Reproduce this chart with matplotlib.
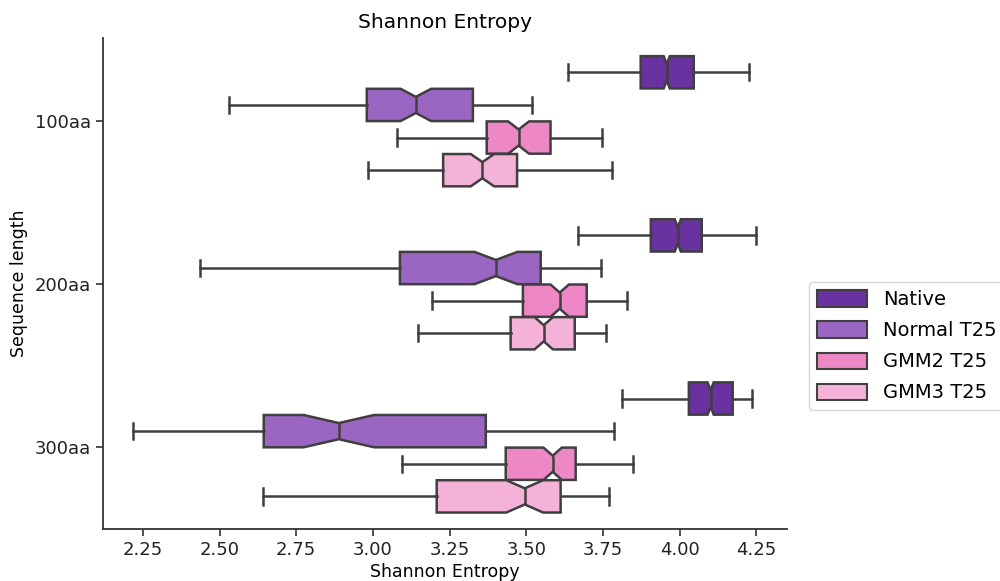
import matplotlib
matplotlib.use("Agg")
import matplotlib.pyplot as plt
from matplotlib.patches import Patch

# Summary stats (Shannon entropy per model / length)
lengths = ["100aa", "200aa", "300aa"]
models = ["Native", "Normal T25", "GMM2 T25", "GMM3 T25"]
colors = ["#6a32a0", "#9a66c2", "#ee87c5", "#f5b2d8"]

# per model: lists over lengths
whislo = {
    "Native":     [3.635, 3.668, 3.811],
    "Normal T25": [2.530, 2.436, 2.217],
    "GMM2 T25":   [3.080, 3.192, 3.094],
    "GMM3 T25":   [2.983, 3.146, 2.641],
}
q1 = {
    "Native":     [3.873, 3.906, 4.030],
    "Normal T25": [2.980, 3.088, 2.644],
    "GMM2 T25":   [3.371, 3.489, 3.433],
    "GMM3 T25":   [3.229, 3.449, 3.208],
}
med = {
    "Native":     [3.958, 3.994, 4.101],
    "Normal T25": [3.140, 3.401, 2.889],
    "GMM2 T25":   [3.475, 3.609, 3.586],
    "GMM3 T25":   [3.357, 3.557, 3.495],
}
q3 = {
    "Native":     [4.046, 4.072, 4.173],
    "Normal T25": [3.326, 3.547, 3.368],
    "GMM2 T25":   [3.579, 3.697, 3.661],
    "GMM3 T25":   [3.470, 3.658, 3.612],
}
whishi = {
    "Native":     [4.225, 4.248, 4.235],
    "Normal T25": [3.520, 3.743, 3.785],
    "GMM2 T25":   [3.746, 3.828, 3.847],
    "GMM3 T25":   [3.780, 3.759, 3.770],
}
notch_half = {
    "Native":     [0.010, 0.010, 0.010],
    "Normal T25": [0.050, 0.070, 0.115],
    "GMM2 T25":   [0.034, 0.030, 0.030],
    "GMM3 T25":   [0.038, 0.030, 0.060],
}

fig = plt.figure(figsize=(10, 5.81), dpi=100)
ax = fig.add_axes([0.103, 0.0895, 0.684, 0.845])

offsets = [-0.3, -0.1, 0.1, 0.3]
edge = "#3f3f3f"
for m, col, off in zip(models, colors, offsets):
    stats = []
    for i in range(len(lengths)):
        stats.append(dict(
            med=med[m][i], q1=q1[m][i], q3=q3[m][i],
            whislo=whislo[m][i], whishi=whishi[m][i],
            cilo=med[m][i] - notch_half[m][i], cihi=med[m][i] + notch_half[m][i],
            fliers=[],
        ))
    pos = [i + off for i in range(len(lengths))]
    ax.bxp(stats, positions=pos, widths=0.198, vert=False, shownotches=True,
           patch_artist=True, showfliers=False, capwidths=0.1,
           boxprops=dict(facecolor=col, edgecolor=edge, linewidth=1.8),
           medianprops=dict(color=edge, linewidth=1.8),
           whiskerprops=dict(color=edge, linewidth=1.8),
           capprops=dict(color=edge, linewidth=1.8),
           manage_ticks=False)

ax.set_yticks(range(len(lengths)))
ax.set_yticklabels(lengths)
ax.set_ylim(2.5, -0.51)
ax.set_xlim(2.12, 4.35)
ax.set_xticks([2.25, 2.5, 2.75, 3.0, 3.25, 3.5, 3.75, 4.0, 4.25])
ax.tick_params(labelsize=13, width=1.2, length=5, color="#333333",
               labelcolor="#222222")
for s in ["left", "bottom"]:
    ax.spines[s].set_linewidth(1.3)
    ax.spines[s].set_color("#333333")
ax.spines["top"].set_visible(False)
ax.spines["right"].set_visible(False)
ax.set_xlabel("Shannon Entropy", fontsize=12.5, labelpad=3)
ax.set_ylabel("Sequence length", fontsize=12.5, labelpad=5)
ax.set_title("Shannon Entropy", fontsize=14.5, pad=7)

handles = [Patch(facecolor=c, edgecolor=edge, linewidth=1.5) for c in colors]
fig.legend(handles, models, loc="center left", bbox_to_anchor=(0.803, 0.404),
           fontsize=14, frameon=True, handlelength=2.6, handleheight=0.9,
           labelspacing=0.62, borderaxespad=0.3)

fig.savefig("out.png", dpi=100)
